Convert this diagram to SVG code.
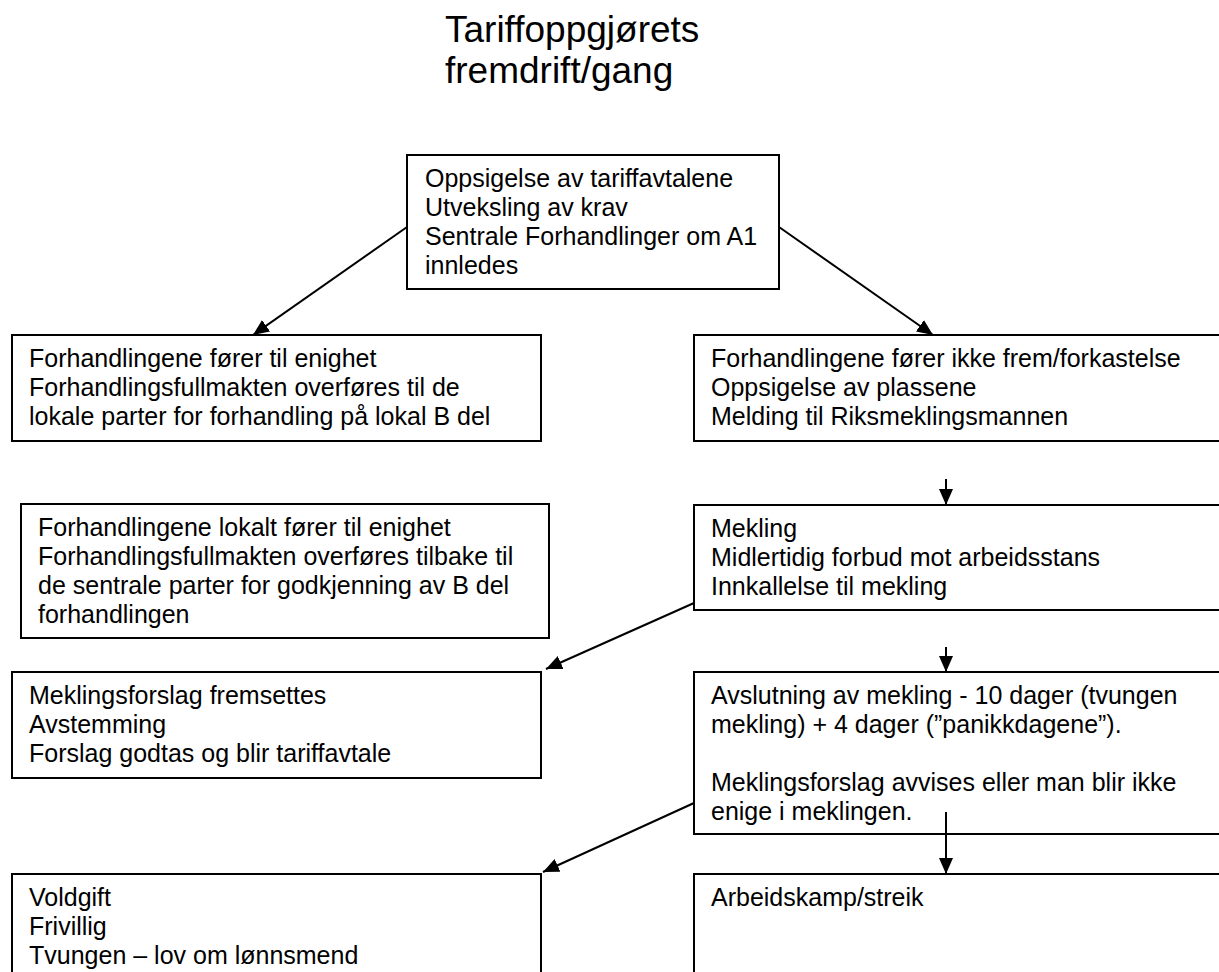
<svg xmlns="http://www.w3.org/2000/svg" width="1219" height="972" viewBox="0 0 1219 972">
<style>
.box{fill:#fff;stroke:#000;stroke-width:2}
.t{font-family:"Liberation Sans",Arial,sans-serif;font-size:25px;fill:#000}
.title{font-family:"Liberation Sans",Arial,sans-serif;font-size:37px;fill:#000}
.c{stroke:#000;stroke-width:2;fill:none;marker-end:url(#ah)}
</style>
<defs>
<marker id="ah" markerUnits="userSpaceOnUse" markerWidth="18" markerHeight="14" refX="16" refY="7" orient="auto">
<path d="M0,0 L16,7 L0,14 Z" fill="#000"/>
</marker>
</defs>
<rect width="1219" height="972" fill="#fff"/>
<g id="title">
<text class="title" x="445" y="42">Tariffoppgjørets</text>
<text class="title" x="445" y="83">fremdrift/gang</text>
</g>
<g id="n-top">
<rect class="box" x="407" y="155" width="372" height="134"/>
<text class="t" x="425" y="187"><tspan x="425">Oppsigelse av tariffavtalene</tspan><tspan x="425" dy="29">Utveksling av krav</tspan><tspan x="425" dy="29">Sentrale Forhandlinger om A1</tspan><tspan x="425" dy="29">innledes</tspan></text>
</g>
<g id="n-l1">
<rect class="box" x="12" y="335" width="529" height="106"/>
<text class="t" x="29" y="367"><tspan x="29">Forhandlingene fører til enighet</tspan><tspan x="29" dy="29">Forhandlingsfullmakten overføres til de</tspan><tspan x="29" dy="29">lokale parter for forhandling på lokal B del</tspan></text>
</g>
<g id="n-r1">
<rect class="box" x="694" y="335" width="540" height="106"/>
<text class="t" x="711" y="367"><tspan x="711">Forhandlingene fører ikke frem/forkastelse</tspan><tspan x="711" dy="29">Oppsigelse av plassene</tspan><tspan x="711" dy="29">Melding til Riksmeklingsmannen</tspan></text>
</g>
<g id="n-l2">
<rect class="box" x="21" y="504" width="528" height="134"/>
<text class="t" x="38" y="536"><tspan x="38">Forhandlingene lokalt fører til enighet</tspan><tspan x="38" dy="29">Forhandlingsfullmakten overføres tilbake til</tspan><tspan x="38" dy="29">de sentrale parter for godkjenning av B del</tspan><tspan x="38" dy="29">forhandlingen</tspan></text>
</g>
<g id="n-r2">
<rect class="box" x="694" y="505" width="540" height="105"/>
<text class="t" x="711" y="537"><tspan x="711">Mekling</tspan><tspan x="711" dy="29">Midlertidig forbud mot arbeidsstans</tspan><tspan x="711" dy="29">Innkallelse til mekling</tspan></text>
</g>
<g id="n-l3">
<rect class="box" x="12" y="672" width="529" height="106"/>
<text class="t" x="29" y="704"><tspan x="29">Meklingsforslag fremsettes</tspan><tspan x="29" dy="29">Avstemming</tspan><tspan x="29" dy="29">Forslag godtas og blir tariffavtale</tspan></text>
</g>
<g id="n-r3">
<rect class="box" x="694" y="672" width="540" height="162"/>
<text class="t" x="711" y="704"><tspan x="711">Avslutning av mekling - 10 dager (tvungen</tspan><tspan x="711" dy="29">mekling) + 4 dager (”panikkdagene”).</tspan><tspan x="711" dy="58">Meklingsforslag avvises eller man blir ikke</tspan><tspan x="711" dy="29">enige i meklingen.</tspan></text>
</g>
<g id="n-l4">
<rect class="box" x="12" y="874" width="529" height="120"/>
<text class="t" x="29" y="906"><tspan x="29">Voldgift</tspan><tspan x="29" dy="29">Frivillig</tspan><tspan x="29" dy="29">Tvungen – lov om lønnsmend</tspan></text>
</g>
<g id="n-r4">
<rect class="box" x="694" y="874" width="540" height="120"/>
<text class="t" x="711" y="906">Arbeidskamp/streik</text>
</g>
<g id="connectors">
<line class="c" x1="407" y1="227" x2="253" y2="335"/>
<line class="c" x1="779" y1="227" x2="933" y2="335"/>
<line class="c" x1="946" y1="479" x2="946" y2="505"/>
<line class="c" x1="946" y1="647" x2="946" y2="672"/>
<line class="c" x1="694" y1="603" x2="546" y2="669"/>
<line class="c" x1="694" y1="803" x2="543" y2="872"/>
<line class="c" x1="946" y1="812" x2="946" y2="874"/>
</g>
</svg>
